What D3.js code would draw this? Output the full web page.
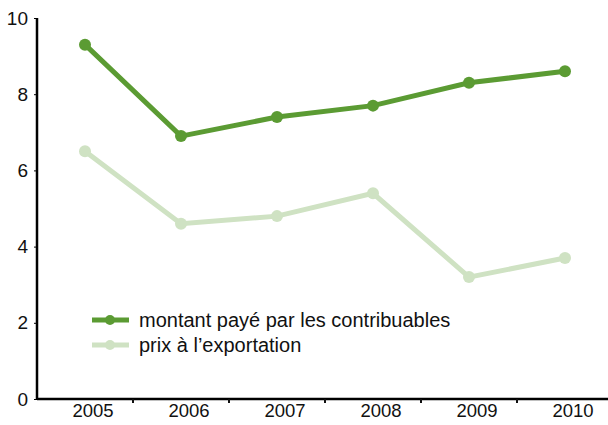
<!DOCTYPE html>
<html>
<head>
<meta charset="utf-8">
<script src="https://cdn.jsdelivr.net/npm/d3@7"></script>
<style>
body { margin: 0; background: #fff; }
text { font-family: "Liberation Sans", Arial, sans-serif; fill: #111; }
</style>
</head>
<body>
<svg id="chart" width="608" height="425"></svg>
<script>
//
// Data
//
var years = ["2005", "2006", "2007", "2008", "2009", "2010"];
var contribuables = [9.3, 6.9, 7.4, 7.7, 8.3, 8.6];
var exportation = [6.5, 4.6, 4.8, 5.4, 3.2, 3.7];
var yTicks = [0, 2, 4, 6, 8, 10];
var seriesNames = ["montant payé par les contribuables", "prix à l’exportation"];

var dark = "#5b9b33";
var light = "#cfe2c3";

var svg = d3.select("#chart");

var x = d3.scaleBand().domain(years).range([37, 613]);
var y = d3.scaleLinear().domain([0, 10]).range([399, 18]);

// axes
var yAxis = svg.append("g")
    .attr("transform", "translate(37,0)")
    .call(d3.axisLeft(y).tickValues(yTicks).tickSize(3).tickPadding(6));
yAxis.select(".domain").attr("stroke-width", 2.5).attr("d", "M0," + y(10) + "V" + y(0));
yAxis.selectAll("text").style("font-size", "19px");

var xAxis = svg.append("g")
    .attr("transform", "translate(0,399)")
    .call(d3.axisBottom(x).tickSize(0).tickPadding(5));
xAxis.select(".domain").attr("stroke-width", 2.5).attr("d", "M37,0H608");
xAxis.selectAll("text").style("font-size", "18.5px").attr("dx", 8);

// ticks between bands
svg.append("g").selectAll("line")
    .data(years.slice(1))
    .enter().append("line")
    .attr("x1", function (d) { return x(d); })
    .attr("x2", function (d) { return x(d); })
    .attr("y1", 399).attr("y2", 403)
    .attr("stroke", "#111").attr("stroke-width", 2);

var line = d3.line()
    .x(function (d, i) { return x(years[i]) + x.bandwidth() / 2; })
    .y(function (d) { return y(d); });

function drawSeries(values, color) {
    svg.append("path")
        .datum(values)
        .attr("d", line)
        .attr("fill", "none")
        .attr("stroke", color)
        .attr("stroke-width", 5);
    svg.append("g").selectAll("circle")
        .data(values)
        .enter().append("circle")
        .attr("cx", function (d, i) { return x(years[i]) + x.bandwidth() / 2; })
        .attr("cy", function (d) { return y(d); })
        .attr("r", 6)
        .attr("fill", color);
}

drawSeries(exportation, light);
drawSeries(contribuables, dark);

// legend
var legend = svg.append("g")
    .selectAll("g")
    .data(seriesNames)
    .enter().append("g")
    .attr("transform", function (d, i) { return "translate(92," + (320 + i * 25) + ")"; });
legend.append("line")
    .attr("x1", 0).attr("x2", 37).attr("y1", 0).attr("y2", 0)
    .attr("stroke", function (d, i) { return i === 0 ? dark : light; })
    .attr("stroke-width", 5);
legend.append("circle")
    .attr("cx", 18).attr("cy", 0).attr("r", 5)
    .attr("fill", function (d, i) { return i === 0 ? dark : light; });
legend.append("text")
    .attr("x", 47).attr("y", 0).attr("dy", "0.35em")
    .style("font-size", "20px")
    .text(function (d) { return d; });
</script>
</body>
</html>
